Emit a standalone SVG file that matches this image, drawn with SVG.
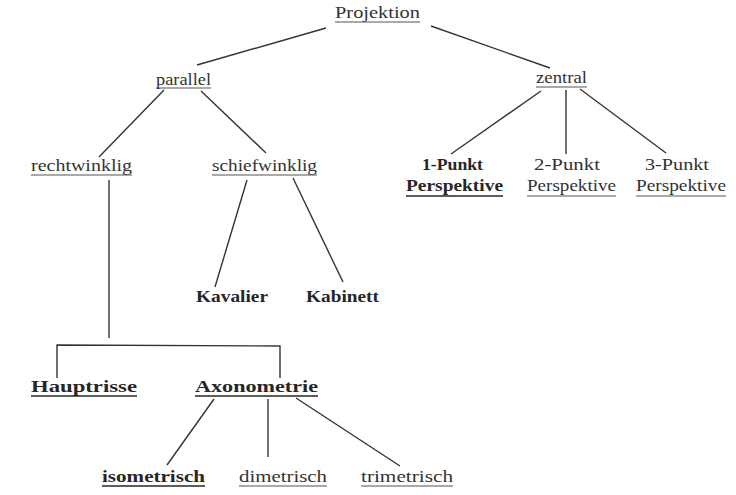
<svg xmlns="http://www.w3.org/2000/svg" width="736" height="495" viewBox="0 0 736 495">
<style>
text{font-family:"Liberation Serif","Times New Roman",serif;font-size:17.5px;fill:#333}
.b{font-weight:bold;fill:#262626}
.c line{stroke:#333;stroke-width:1.4;fill:none}
.u{stroke:#555;stroke-width:1.1}
.ub{stroke:#262626;stroke-width:1.7}
</style>
<rect width="736" height="495" fill="#fff"/>
<g class="c" id="connectors">
<line x1="326" y1="28" x2="197" y2="65"/>
<line x1="431" y1="26" x2="550" y2="68"/>
<line x1="164" y1="90" x2="99" y2="157"/>
<line x1="201" y1="91" x2="266" y2="153"/>
<line x1="541" y1="91" x2="451" y2="154"/>
<line x1="566" y1="90" x2="566" y2="154"/>
<line x1="580" y1="89" x2="666" y2="153"/>
<line x1="247" y1="180" x2="215" y2="287"/>
<line x1="293" y1="178" x2="343" y2="282"/>
<line x1="109" y1="180" x2="109" y2="338"/>
<polyline points="57,378 57,345 280,346 280,378" style="stroke:#333;stroke-width:1.4;fill:none"/>
<line x1="214" y1="399" x2="167" y2="465"/>
<line x1="268" y1="399" x2="268" y2="457"/>
<line x1="296" y1="398" x2="400" y2="466"/>
</g>
<g id="n-projektion"><text x="335" y="18" textLength="85" lengthAdjust="spacingAndGlyphs">Projektion</text><line class="u" x1="335" y1="22" x2="420" y2="22"/></g>
<g id="n-parallel"><text x="156" y="85" textLength="55" lengthAdjust="spacingAndGlyphs">parallel</text><line class="u" x1="156" y1="88" x2="211" y2="88"/></g>
<g id="n-zentral"><text x="536" y="83" textLength="51" lengthAdjust="spacingAndGlyphs">zentral</text><line class="u" x1="536" y1="87" x2="587" y2="87"/></g>
<g id="n-rechtwinklig"><text x="31" y="171" textLength="101" lengthAdjust="spacingAndGlyphs">rechtwinklig</text><line class="u" x1="31" y1="175" x2="132" y2="175"/></g>
<g id="n-schiefwinklig"><text x="212" y="171" textLength="105" lengthAdjust="spacingAndGlyphs">schiefwinklig</text><line class="u" x1="212" y1="175" x2="317" y2="175"/></g>
<g id="n-1punkt"><text class="b" x="422" y="170" textLength="61" lengthAdjust="spacingAndGlyphs">1-Punkt</text><text class="b" x="406" y="191" textLength="97" lengthAdjust="spacingAndGlyphs">Perspektive</text><line class="ub" x1="406" y1="196" x2="503" y2="196"/></g>
<g id="n-2punkt"><text x="534" y="170" textLength="66" lengthAdjust="spacingAndGlyphs">2-Punkt</text><text x="527" y="191" textLength="89" lengthAdjust="spacingAndGlyphs">Perspektive</text><line class="u" x1="527" y1="196" x2="616" y2="196"/></g>
<g id="n-3punkt"><text x="645" y="170" textLength="64" lengthAdjust="spacingAndGlyphs">3-Punkt</text><text x="636" y="191" textLength="90" lengthAdjust="spacingAndGlyphs">Perspektive</text><line class="u" x1="636" y1="196" x2="726" y2="196"/></g>
<g id="n-kavalier"><text class="b" x="196" y="302" textLength="72" lengthAdjust="spacingAndGlyphs">Kavalier</text></g>
<g id="n-kabinett"><text class="b" x="306" y="302" textLength="73" lengthAdjust="spacingAndGlyphs">Kabinett</text></g>
<g id="n-hauptrisse"><text class="b" x="31" y="392" textLength="106" lengthAdjust="spacingAndGlyphs">Hauptrisse</text><line class="ub" x1="31" y1="396" x2="137" y2="396"/></g>
<g id="n-axonometrie"><text class="b" x="195" y="392" textLength="123" lengthAdjust="spacingAndGlyphs">Axonometrie</text><line class="ub" x1="195" y1="396" x2="318" y2="396"/></g>
<g id="n-isometrisch"><text class="b" x="102" y="482" textLength="103" lengthAdjust="spacingAndGlyphs">isometrisch</text><line class="ub" x1="102" y1="486" x2="205" y2="486"/></g>
<g id="n-dimetrisch"><text x="239" y="482" textLength="88" lengthAdjust="spacingAndGlyphs">dimetrisch</text><line class="u" x1="239" y1="486" x2="327" y2="486"/></g>
<g id="n-trimetrisch"><text x="361" y="482" textLength="92" lengthAdjust="spacingAndGlyphs">trimetrisch</text><line class="u" x1="361" y1="486" x2="453" y2="486"/></g>
</svg>
